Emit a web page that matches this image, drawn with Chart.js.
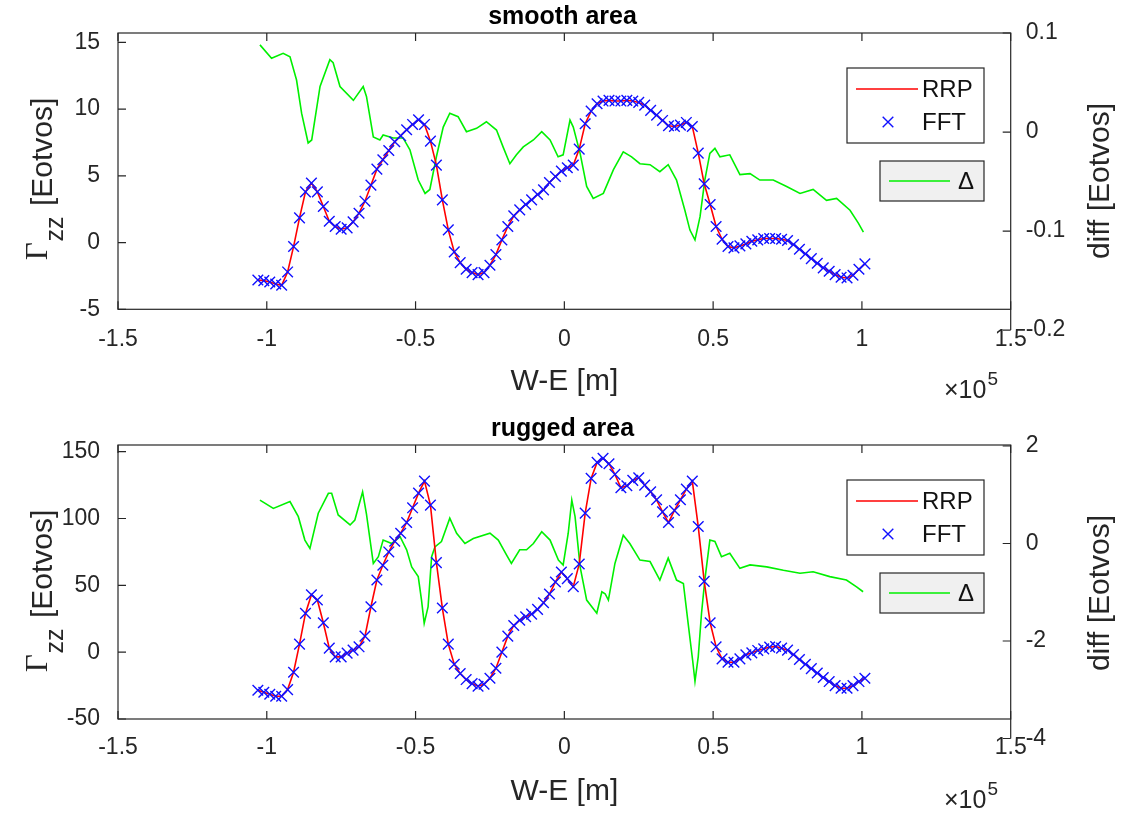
<!DOCTYPE html>
<html>
<head>
<meta charset="utf-8">
<script src="https://cdn.jsdelivr.net/npm/chart.js@4.4.1/dist/chart.umd.min.js"></script>
<style>
body{margin:0;background:#fff;}
#wrap{position:relative;width:1125px;height:814px;}
canvas{position:absolute;left:0;}
</style>
</head>
<body>
<div id="wrap">
<canvas id="smooth" width="1125" height="410" style="top:0"></canvas>
<canvas id="rugged" width="1125" height="404" style="top:410px"></canvas>
</div>
<script>
// ================== DATA (x in units of 10^5 m) ==================
const gridX = [
  -1.03,-1.01,-0.99,-0.97,-0.95,-0.93,-0.91,-0.89,-0.87,-0.85,
  -0.83,-0.81,-0.79,-0.77,-0.75,-0.73,-0.71,-0.69,-0.67,-0.65,
  -0.63,-0.61,-0.59,-0.57,-0.55,-0.53,-0.51,-0.49,-0.47,-0.45,
  -0.43,-0.41,-0.39,-0.37,-0.35,-0.33,-0.31,-0.29,-0.27,-0.25,
  -0.23,-0.21,-0.19,-0.17,-0.15,-0.13,-0.11,-0.09,-0.07,-0.05,
  -0.03,-0.01,0.01,0.03,0.05,0.07,0.09,0.11,0.13,0.15,
  0.17,0.19,0.21,0.23,0.25,0.27,0.29,0.31,0.33,0.35,
  0.37,0.39,0.41,0.43,0.45,0.47,0.49,0.51,0.53,0.55,
  0.57,0.59,0.61,0.63,0.65,0.67,0.69,0.71,0.73,0.75,
  0.77,0.79,0.81,0.83,0.85,0.87,0.89,0.91,0.93,0.95,
  0.97,0.99,1.01
];

// smooth area, Gamma_zz (RRP line and FFT markers coincide)
const smoothGzz = [
  -2.8,-2.85,-2.95,-3.1,-3.2,-2.2,-0.3,1.85,3.8,4.45,
  3.8,2.7,1.6,1.2,1.0,1.1,1.55,2.2,3.1,4.3,
  5.5,6.2,6.9,7.55,8.0,8.45,8.85,9.2,8.85,7.6,
  5.8,3.2,0.95,-0.7,-1.5,-2.0,-2.25,-2.4,-2.25,-1.7,
  -0.9,0.2,1.2,2.0,2.45,2.85,3.2,3.6,3.95,4.5,
  4.95,5.35,5.6,5.8,7.0,8.9,9.85,10.4,10.6,10.65,
  10.6,10.6,10.65,10.6,10.5,10.3,9.9,9.55,9.15,8.75,
  8.7,8.8,9.0,8.7,6.7,4.4,2.85,1.2,0.25,-0.3,
  -0.4,-0.25,-0.1,0.1,0.2,0.3,0.3,0.3,0.25,0.15,
  -0.15,-0.5,-0.85,-1.2,-1.55,-1.9,-2.15,-2.4,-2.6,-2.65,
  -2.45,-2.0,-1.6
];

const smoothDiffX = [
  -1.023,-0.984,-0.945,-0.922,-0.9,-0.883,-0.861,-0.849,-0.821,-0.788,
  -0.777,-0.754,-0.709,-0.676,-0.665,-0.642,-0.62,-0.609,-0.575,-0.542,
  -0.519,-0.491,-0.468,-0.452,-0.43,-0.407,-0.385,-0.357,-0.329,-0.295,
  -0.262,-0.228,-0.206,-0.183,-0.161,-0.138,-0.104,-0.076,-0.048,-0.021,
  -0.004,0.019,0.03,0.053,0.075,0.097,0.131,0.165,0.198,0.226,
  0.254,0.288,0.321,0.349,0.377,0.405,0.422,0.439,0.456,0.472,
  0.489,0.506,0.523,0.556,0.59,0.624,0.657,0.702,0.747,0.792,
  0.836,0.881,0.915,0.96,0.988,1.005
];
const smoothDiff = [
  0.088,0.0744,0.0795,0.076,0.0525,0.019,-0.011,-0.008,0.046,0.073,
  0.07,0.046,0.032,0.046,0.036,-0.005,-0.008,-0.003,-0.006,-0.006,
  -0.018,-0.0485,-0.062,-0.058,-0.025,0.005,0.019,0.0155,0.0003,0.0037,
  0.0104,0.002,-0.015,-0.032,-0.023,-0.015,-0.008,0.0003,-0.008,-0.025,
  -0.023,0.012,0.005,-0.0215,-0.055,-0.067,-0.062,-0.038,-0.02,-0.025,
  -0.032,-0.033,-0.04,-0.033,-0.0485,-0.079,-0.099,-0.109,-0.0855,-0.0485,
  -0.0215,-0.0165,-0.025,-0.023,-0.043,-0.042,-0.0485,-0.0485,-0.055,-0.062,
  -0.058,-0.069,-0.067,-0.079,-0.092,-0.101
];

// rugged area
const ruggedGzz = [
  -28.5,-30,-31.5,-33,-33,-28,-15,6,29,43,
  39,22,3,-3.5,-3.5,-0.7,1.5,4,12,34,
  54,65,75,83,89,97,108,119,128,110,
  67,33,6,-9,-16,-20.5,-23.5,-25.5,-24,-19.5,
  -12,0,12,20,24,26.5,28.5,32,37,43.5,
  52.5,60,55,49,66,104,130,142,145,141,
  133,123,124.5,128.5,130.5,125,120,114,105,97,
  106,114,122,128,94,53,22,4,-5,-7.5,
  -7.5,-5,-2,-0.5,1.3,2.5,3.8,4.2,3,1.5,
  -1.8,-5.5,-9,-12.3,-15.6,-19,-22,-25,-27,-27,
  -25,-22,-19.5
];

const ruggedDiffX = [
  -1.023,-0.978,-0.922,-0.894,-0.872,-0.855,-0.827,-0.793,-0.782,-0.76,
  -0.72,-0.704,-0.678,-0.665,-0.642,-0.625,-0.609,-0.58,-0.552,-0.53,
  -0.513,-0.491,-0.48,-0.471,-0.458,-0.446,-0.435,-0.413,-0.385,-0.362,
  -0.334,-0.306,-0.25,-0.222,-0.194,-0.178,-0.15,-0.127,-0.104,-0.076,
  -0.048,-0.02,-0.004,0.013,0.025,0.036,0.053,0.075,0.109,0.126,
  0.137,0.148,0.17,0.198,0.22,0.254,0.288,0.321,0.349,0.377,
  0.4,0.416,0.431,0.439,0.45,0.461,0.472,0.489,0.506,0.528,
  0.556,0.59,0.624,0.68,0.736,0.792,0.836,0.892,0.948,0.982,
  1.004
];
const ruggedDiff = [
  0.89,0.72,0.86,0.55,0.07,-0.1,0.62,1.03,1.03,0.585,
  0.38,0.48,1.06,0.6,-0.41,-0.27,0.07,0.0,0.14,-0.13,
  -0.48,-0.68,-1.16,-1.64,-1.3,-0.27,-0.07,0.04,0.52,0.21,
  0.0,0.1,0.21,0.07,-0.24,-0.41,-0.13,-0.13,0.0,0.24,
  0.07,-0.34,-0.44,0.21,0.89,0.55,-0.48,-1.16,-1.43,-0.99,
  -1.03,-1.16,-0.41,0.17,0.0,-0.34,-0.37,-0.75,-0.3,-0.75,
  -0.82,-1.64,-2.39,-2.83,-2.32,-1.43,-0.75,0.07,0.04,-0.27,
  -0.2,-0.51,-0.44,-0.48,-0.55,-0.61,-0.58,-0.68,-0.75,-0.89,
  -0.99
];

// tick labels
const xTicks = [-1.5, -1, -0.5, 0, 0.5, 1, 1.5];
const smoothLeftTicks = [-5, 0, 5, 10, 15];
const smoothRightTicks = [-0.2, -0.1, 0, 0.1];
const ruggedLeftTicks = [-50, 0, 50, 100, 150];
const ruggedRightTicks = [-4, -2, 0, 2];

// ================== STYLE ==================
const AX = '#262626';
const FONT = '"Liberation Sans", Arial, Helvetica, sans-serif';

// ================== DECORATION PLUGIN ==================
// MATLAB style box, inward ticks, rotated y labels, x10^5 and two legend boxes
const decor = {
  id: 'decor',
  afterDraw(chart){
    const {ctx, chartArea: a, scales} = chart;
    const {x, y, y1} = scales;
    const tl = 8;
    ctx.save();
    ctx.strokeStyle = AX;
    ctx.lineWidth = 1.2;
    ctx.strokeRect(a.left, a.top, a.right - a.left, a.bottom - a.top);

    ctx.beginPath();
    x.ticks.forEach(t=>{
      const p = x.getPixelForValue(t.value);
      ctx.moveTo(p, a.bottom); ctx.lineTo(p, a.bottom - tl);
      ctx.moveTo(p, a.top); ctx.lineTo(p, a.top + tl);
    });
    y.ticks.forEach(t=>{
      const p = y.getPixelForValue(t.value);
      ctx.moveTo(a.left, p); ctx.lineTo(a.left + tl, p);
    });
    let low = a.bottom;
    y1.ticks.forEach(t=>{
      const p = y1.getPixelForValue(t.value);
      ctx.moveTo(a.right, p); ctx.lineTo(a.right - tl, p);
      low = Math.max(low, p);
    });
    ctx.moveTo(a.right, a.bottom); ctx.lineTo(a.right, low);
    ctx.stroke();

    // left y label: Gamma_zz [Eotvos]
    ctx.save();
    ctx.translate(52, a.top + 146);
    ctx.rotate(-Math.PI/2);
    ctx.fillStyle = AX;
    ctx.textAlign = 'left';
    ctx.textBaseline = 'alphabetic';
    const fG = '31px "Liberation Serif", serif';
    const fS = '25px ' + FONT;
    const fM = '30px ' + FONT;
    ctx.font = fG; const wG = ctx.measureText('Γ').width;
    ctx.font = fS; const wS = ctx.measureText('zz').width + 3;
    const rest = ' [Eotvos]';
    ctx.font = fM; const wR = ctx.measureText(rest).width;
    let u = -(wG + wS + wR)/2;
    ctx.font = fG; ctx.fillText('Γ', u, -5); u += wG;
    ctx.font = fS; ctx.fillText('zz', u + 1, 11); u += wS;
    ctx.font = fM; ctx.fillText(rest, u, 0);
    ctx.restore();

    // right y label
    ctx.save();
    ctx.translate(1101, a.top + 148);
    ctx.rotate(-Math.PI/2);
    ctx.fillStyle = AX;
    ctx.textAlign = 'center';
    ctx.textBaseline = 'middle';
    ctx.font = fM;
    ctx.fillText('diff [Eotvos]', 0, 0);
    ctx.restore();

    // x10^5
    ctx.fillStyle = AX;
    ctx.textAlign = 'left';
    ctx.textBaseline = 'alphabetic';
    ctx.font = '25px ' + FONT;
    const base = a.bottom + 89;
    ctx.fillText('×10', 944, base);
    const w10 = ctx.measureText('×10').width;
    ctx.font = '19px ' + FONT;
    ctx.fillText('5', 944 + w10 + 1, base - 13);

    // legends
    const ds = chart.data.datasets;
    const fft = ds[0], rrp = ds[1], dlt = ds[2];
    ctx.font = '24px ' + FONT;
    ctx.textBaseline = 'middle';

    const bx = a.right - 163.7, by = a.top + 35;
    ctx.fillStyle = '#fff';
    ctx.fillRect(bx, by, 137, 75);
    ctx.strokeStyle = AX; ctx.lineWidth = 1.2;
    ctx.strokeRect(bx, by, 137, 75);
    ctx.strokeStyle = rrp.borderColor; ctx.lineWidth = rrp.borderWidth;
    ctx.beginPath(); ctx.moveTo(bx + 9, by + 21); ctx.lineTo(bx + 71, by + 21); ctx.stroke();
    const mx = bx + 41, my = by + 54, r = fft.pointRadius * Math.SQRT1_2;
    ctx.strokeStyle = fft.borderColor; ctx.lineWidth = fft.pointBorderWidth;
    ctx.beginPath();
    ctx.moveTo(mx - r, my - r); ctx.lineTo(mx + r, my + r);
    ctx.moveTo(mx - r, my + r); ctx.lineTo(mx + r, my - r);
    ctx.stroke();
    ctx.fillStyle = '#111';
    ctx.fillText(rrp.label, bx + 75, by + 22);
    ctx.fillText(fft.label, bx + 75, by + 55);

    const cx2 = a.right - 130.7, cy2 = a.top + 128;
    ctx.fillStyle = '#f0f0f0';
    ctx.fillRect(cx2, cy2, 104, 40);
    ctx.strokeStyle = AX; ctx.lineWidth = 1.2;
    ctx.strokeRect(cx2, cy2, 104, 40);
    ctx.strokeStyle = dlt.borderColor; ctx.lineWidth = dlt.borderWidth;
    ctx.beginPath(); ctx.moveTo(cx2 + 9, cy2 + 20); ctx.lineTo(cx2 + 70, cy2 + 20); ctx.stroke();
    ctx.fillStyle = '#111';
    ctx.fillText(dlt.label, cx2 + 78, cy2 + 21);

    ctx.restore();
  }
};

// ================== PANEL BUILDER ==================
function makePanel(id, p){
  const canvas = document.getElementById(id);
  const H = canvas.height;
  const gzzPts = gridX.map((x,i)=>({x, y: p.gzz[i]}));
  const diffPts = p.diffX.map((x,i)=>({x, y: p.diff[i]}));
  const tickFont = {family: FONT, size: 23};
  return new Chart(canvas, {
    type: 'line',
    data: {
      datasets: [
        {label: 'FFT', data: gzzPts, yAxisID: 'y', showLine: false,
         pointStyle: 'crossRot', pointRadius: 7.5, pointBorderWidth: 1.4,
         borderColor: '#1010ff', backgroundColor: '#1010ff'},
        {label: 'RRP', data: gzzPts, yAxisID: 'y', borderColor: '#ff0000',
         borderWidth: 1.6, pointRadius: 0, tension: 0},
        {label: 'Δ', data: diffPts, yAxisID: 'y1', borderColor: '#00f000',
         borderWidth: 1.6, pointRadius: 0, tension: 0}
      ]
    },
    options: {
      responsive: false,
      animation: false,
      layout: {padding: 0},
      plugins: {
        legend: {display: false},
        tooltip: {enabled: false},
        title: {display: true, text: p.title, color: '#000',
                font: {family: FONT, size: 25, weight: 'bold'},
                padding: {top: p.titleTop, bottom: 1}}
      },
      scales: {
        x: {
          type: 'linear', min: -1.5, max: 1.5,
          afterBuildTicks: s=>{ s.ticks = xTicks.map(v=>({value: v})); },
          afterFit: s=>{ s.height = H - p.bottom; },
          grid: {display: false}, border: {display: false},
          ticks: {autoSkip: false, maxRotation: 0, color: AX, font: tickFont,
                  padding: p.xTickPad, callback: v=>String(v)},
          title: {display: true, text: 'W-E [m]', color: AX,
                  font: {family: FONT, size: 30}, padding: {top: 0, bottom: p.xTitleBottom}}
        },
        y: {
          position: 'left', min: p.leftMin, max: p.leftMax,
          afterBuildTicks: s=>{ s.ticks = p.leftTicks.map(v=>({value: v})); },
          afterFit: s=>{ s.width = 118; },
          grid: {display: false}, border: {display: false},
          ticks: {autoSkip: false, color: AX, font: tickFont, padding: 10, callback: v=>String(v)}
        },
        y1: {
          position: 'right', min: p.rightMin, max: p.rightMax,
          afterBuildTicks: s=>{ s.ticks = p.rightTicks.map(v=>({value: v})); },
          afterFit: s=>{ s.width = 1125 - 1010.7; },
          grid: {display: false}, border: {display: false},
          ticks: {autoSkip: false, color: AX, font: tickFont, padding: 7, callback: v=>String(v)}
        }
      }
    },
    plugins: [decor]
  });
}

makePanel('smooth', {
  title: 'smooth area', titleTop: 2, bottom: 309.3, xTitleBottom: 10, xTickPad: 9,
  gzz: smoothGzz, diffX: smoothDiffX, diff: smoothDiff,
  leftMin: -5, leftMax: 15.7, leftTicks: smoothLeftTicks,
  rightMin: -0.179, rightMax: 0.1, rightTicks: smoothRightTicks
});

makePanel('rugged', {
  title: 'rugged area', titleTop: 4, bottom: 309, xTitleBottom: 4, xTickPad: 7,
  gzz: ruggedGzz, diffX: ruggedDiffX, diff: ruggedDiff,
  leftMin: -50, leftMax: 155, leftTicks: ruggedLeftTicks,
  rightMin: -3.6, rightMax: 2.02, rightTicks: ruggedRightTicks
});
</script>
</body>
</html>
